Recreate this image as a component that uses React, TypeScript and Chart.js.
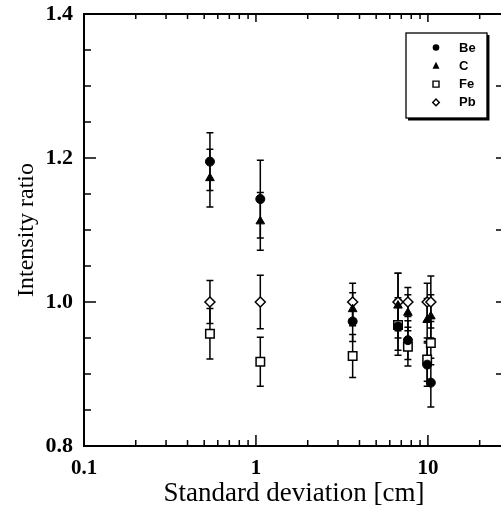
import React, { useEffect, useRef } from "react";
import { Chart, registerables } from "chart.js";

Chart.register(...registerables);

// ---- data ----
const sigmaCm = [0.54, 1.06, 3.65, 6.7, 7.65, 9.9, 10.4];
const beRatio = [1.195, 1.143, 0.973, 0.966, 0.947, 0.913, 0.888];
const beError = [0.04, 0.054, 0.028, 0.04, 0.027, 0.03, 0.034];
const cRatio = [1.172, 1.112, 0.99, 0.995, 0.985, 0.975, 0.98];
const cError = [0.04, 0.04, 0.023, 0.045, 0.025, 0.03, 0.03];
const feRatio = [0.956, 0.917, 0.925, 0.968, 0.938, 0.92, 0.943];
const feError = [0.035, 0.034, 0.03, 0.035, 0.027, 0.03, 0.03];
const pbRatio = [1.0, 1.0, 1.0, 1.0, 1.0, 1.0, 1.0];
const pbError = [0.03, 0.037, 0.026, 0.04, 0.02, 0.026, 0.036];
const seriesNames = ["Be", "C", "Fe", "Pb"];
const xTickLabels = ["0.1", "1", "10"];
const yTickLabels = ["0.8", "1.0", "1.2", "1.4"];
const xTitle = "Standard deviation [cm]";
const yTitle = "Intensity ratio";
const xMin = 0.1;
const xMax = 27.7;
const yMin = 0.8;
const yMax = 1.4;

const SERIF = "'Liberation Serif', 'Times New Roman', serif";

const toPoints = (ys: number[]) => sigmaCm.map((x, i) => ({ x, y: ys[i] }));

const errorBarPlugin = {
  id: "errorBars",
  beforeDatasetsDraw(chart: any) {
    const ctx = chart.ctx;
    const xs = chart.scales.x;
    const ys = chart.scales.y;
    ctx.save();
    ctx.strokeStyle = "#000";
    ctx.lineWidth = 1.5;
    chart.data.datasets.forEach((ds: any) => {
      ds.data.forEach((p: any, i: number) => {
        const e = ds.errors[i];
        const px = xs.getPixelForValue(p.x);
        const t = ys.getPixelForValue(p.y + e);
        const b = ys.getPixelForValue(p.y - e);
        ctx.beginPath();
        ctx.moveTo(px, t);
        ctx.lineTo(px, b);
        ctx.moveTo(px - 3.5, t);
        ctx.lineTo(px + 3.5, t);
        ctx.moveTo(px - 3.5, b);
        ctx.lineTo(px + 3.5, b);
        ctx.stroke();
      });
    });
    ctx.restore();
  },
};

const isInt = (v: number) => Math.abs(v - Math.round(v)) < 1e-6;

const framePlugin = {
  id: "frame",
  afterDraw(chart: any) {
    const ctx = chart.ctx;
    const { left, right, top, bottom } = chart.chartArea;
    const xs = chart.scales.x;
    const ys = chart.scales.y;
    ctx.save();
    ctx.strokeStyle = "#000";
    ctx.lineWidth = 2;
    ctx.strokeRect(left, top, right - left, bottom - top);
    ctx.lineWidth = 1.5;
    ctx.beginPath();
    xs.ticks.forEach((t: any) => {
      const v = t.value;
      const exp = Math.floor(Math.log10(v) + 1e-9);
      const m = v / Math.pow(10, exp);
      if (!isInt(m)) return;
      const major = Math.round(m) === 1;
      const px = xs.getPixelForValue(v);
      const lb = major ? 11 : 6;
      const lt = major ? 8 : 5;
      ctx.moveTo(px, bottom);
      ctx.lineTo(px, bottom - lb);
      ctx.moveTo(px, top);
      ctx.lineTo(px, top + lt);
    });
    ys.ticks.forEach((t: any) => {
      const v = t.value;
      const py = ys.getPixelForValue(v);
      const major = isInt(v * 5);
      ctx.moveTo(left, py);
      ctx.lineTo(left + (major ? 12 : 7), py);
      if (isInt(v * 10)) {
        ctx.moveTo(right, py);
        ctx.lineTo(right - 8, py);
      }
    });
    ctx.stroke();
    ctx.restore();
  },
};

const legendPlugin = {
  id: "boxLegend",
  afterDraw(chart: any) {
    const ctx = chart.ctx;
    const { right, top } = chart.chartArea;
    const bx = right - 98;
    const by = top + 19;
    const bw = 81;
    const bh = 85;
    ctx.save();
    ctx.fillStyle = "#fff";
    ctx.fillRect(bx, by, bw, bh);
    ctx.strokeStyle = "#000";
    ctx.lineWidth = 1.3;
    ctx.strokeRect(bx, by, bw, bh);
    ctx.lineWidth = 2.5;
    ctx.beginPath();
    ctx.moveTo(bx + bw + 1.2, by + 2);
    ctx.lineTo(bx + bw + 1.2, by + bh + 1.2);
    ctx.lineTo(bx + 2, by + bh + 1.2);
    ctx.stroke();
    const sx = bx + 30;
    const tx = bx + 53;
    ctx.font = "bold 13px 'Liberation Sans', Arial, sans-serif";
    ctx.textBaseline = "middle";
    ctx.textAlign = "left";
    seriesNames.forEach((name, i) => {
      const sy = by + 14.5 + i * 18.3;
      ctx.fillStyle = "#000";
      ctx.strokeStyle = "#000";
      ctx.lineWidth = 1.4;
      ctx.beginPath();
      if (i === 0) {
        ctx.arc(sx, sy, 3.3, 0, Math.PI * 2);
        ctx.fill();
      } else if (i === 1) {
        ctx.moveTo(sx, sy - 4);
        ctx.lineTo(sx + 3.5, sy + 3);
        ctx.lineTo(sx - 3.5, sy + 3);
        ctx.closePath();
        ctx.fill();
      } else if (i === 2) {
        ctx.rect(sx - 3, sy - 3, 6, 6);
        ctx.stroke();
      } else {
        ctx.moveTo(sx, sy - 3.3);
        ctx.lineTo(sx + 3.3, sy);
        ctx.lineTo(sx, sy + 3.3);
        ctx.lineTo(sx - 3.3, sy);
        ctx.closePath();
        ctx.stroke();
      }
      ctx.fillText(name, tx, sy + 0.5);
    });
    ctx.restore();
  },
};

export default function App() {
  const ref = useRef<HTMLCanvasElement>(null);
  useEffect(() => {
    const datasets: any[] = [
      {
        label: seriesNames[0],
        data: toPoints(beRatio),
        errors: beError,
        pointStyle: "circle",
        pointRadius: 4.5,
        backgroundColor: "#000",
        borderColor: "#000",
        borderWidth: 1,
      },
      {
        label: seriesNames[1],
        data: toPoints(cRatio),
        errors: cError,
        pointStyle: "triangle",
        pointRadius: 5,
        backgroundColor: "#000",
        borderColor: "#000",
        borderWidth: 1,
      },
      {
        label: seriesNames[2],
        data: toPoints(feRatio),
        errors: feError,
        pointStyle: "rect",
        pointRadius: 6,
        backgroundColor: "#fff",
        borderColor: "#000",
        borderWidth: 1.5,
      },
      {
        label: seriesNames[3],
        data: toPoints(pbRatio),
        errors: pbError,
        pointStyle: "rectRot",
        pointRadius: 5,
        backgroundColor: "#fff",
        borderColor: "#000",
        borderWidth: 1.5,
      },
    ];
    const chart = new Chart(ref.current!, {
      type: "scatter",
      data: { datasets },
      plugins: [errorBarPlugin, framePlugin, legendPlugin],
      options: {
        responsive: false,
        animation: false,
        layout: { padding: { left: 0, top: 14, right: 8, bottom: 0 } },
        plugins: { legend: { display: false }, tooltip: { enabled: false } },
        scales: {
          x: {
            type: "logarithmic",
            min: xMin,
            max: xMax,
            grid: { display: false, drawTicks: false },
            border: { display: false },
            afterFit(scale: any) {
              scale.height = 67;
              scale.paddingLeft = 0;
              scale.paddingRight = 0;
            },
            ticks: {
              autoSkip: false,
              maxRotation: 0,
              padding: 10,
              color: "#000",
              font: { family: SERIF, size: 21, weight: "bold" },
              callback(value: any) {
                const v = Number(value);
                const lbl = xTickLabels.find((l) => Math.abs(Number(l) - v) < 1e-9);
                return lbl ?? "";
              },
            },
            title: {
              display: true,
              text: xTitle,
              color: "#000",
              font: { family: SERIF, size: 27 },
              padding: { top: 0, bottom: 3 },
            },
          },
          y: {
            type: "linear",
            min: yMin,
            max: yMax,
            grid: { display: false, drawTicks: false },
            border: { display: false },
            afterFit(scale: any) {
              scale.width = 84;
              scale.paddingTop = 0;
              scale.paddingBottom = 0;
            },
            ticks: {
              stepSize: 0.05,
              autoSkip: false,
              padding: 11,
              color: "#000",
              font: { family: SERIF, size: 22, weight: "bold" },
              callback(value: any) {
                const v = Number(value);
                const lbl = yTickLabels.find((l) => Math.abs(Number(l) - v) < 1e-6);
                return lbl ?? "";
              },
            },
            title: {
              display: true,
              text: yTitle,
              color: "#000",
              font: { family: SERIF, size: 24 },
              padding: { top: 12, bottom: 0 },
            },
          },
        },
      } as any,
    } as any);
    return () => chart.destroy();
  }, []);
  return (
    <div
      style={{
        position: "absolute",
        left: 0,
        top: 0,
        width: 501,
        height: 513,
        overflow: "hidden",
        background: "#fff",
      }}
    >
      <canvas ref={ref} width={512} height={513} style={{ display: "block" }} />
    </div>
  );
}
